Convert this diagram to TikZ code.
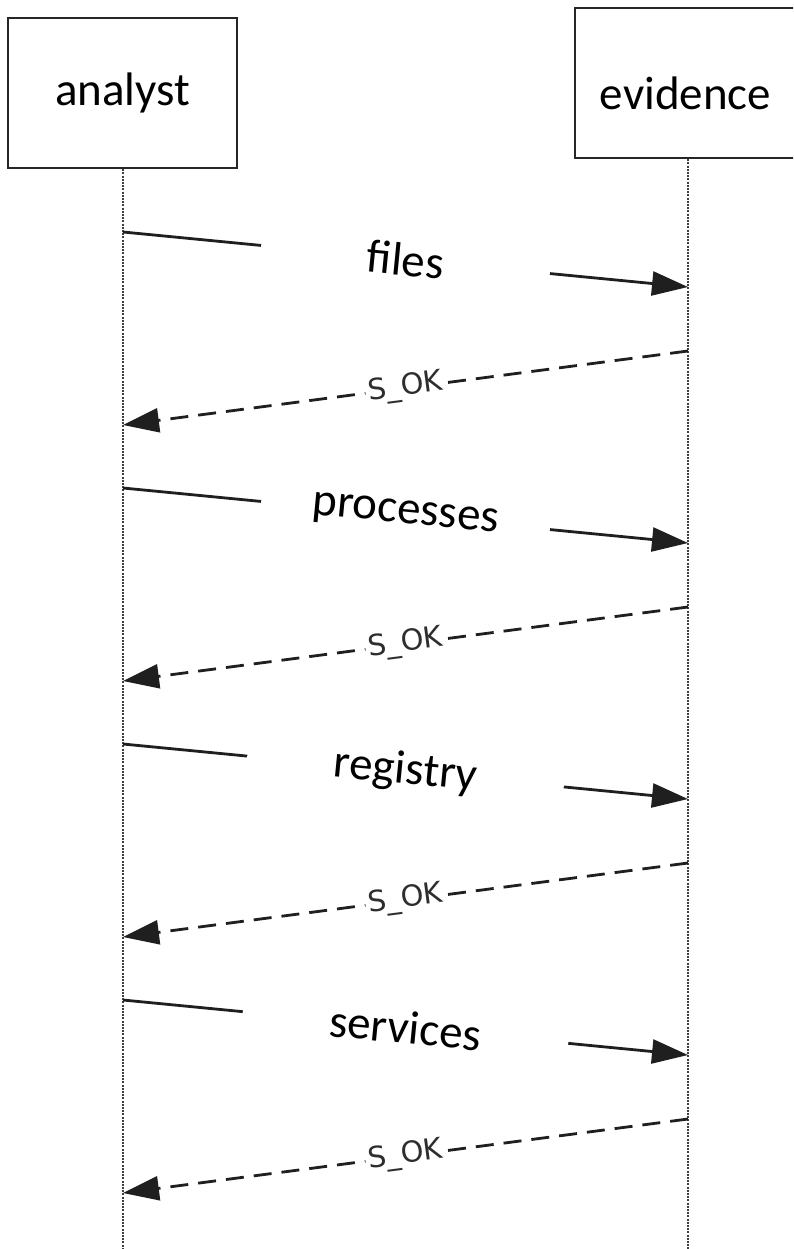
\documentclass[tikz,border=0pt]{standalone}
\usepackage{fontspec}
\setmainfont{Carlito}
\newfontfamily\retfont{DejaVu Sans}
\usetikzlibrary{arrows.meta}
\begin{document}
\begin{tikzpicture}[x=1pt,y=-1pt,
  actor/.style={draw=black!85, line width=2.6pt, minimum height=150pt,
    inner sep=0pt, font=\fontsize{47}{50}\selectfont},
  lifeline/.style={draw=black!75, line width=1.9pt, dash pattern=on 2pt off 1.2pt},
  tip/.style={-{Triangle[length=36pt,width=24pt]}},
  call/.style={tip, line width=2.8pt, draw=black!88},
  reply/.style={tip, line width=2.8pt, draw=black!88, dash pattern=on 18pt off 10pt},
  calllabel/.style={sloped, fill=white, inner sep=0pt, minimum height=40pt,
    font=\fontsize{47}{50}\selectfont},
  replylabel/.style={sloped, fill=white, inner sep=3pt, text=black!82,
    font=\retfont\fontsize{29}{31}\selectfont},
]
\useasboundingbox (0,0) rectangle (793,1249);
\clip (0,0) rectangle (793,1249);

% participants (the evidence box runs past the right edge; its text sits lower)
\node[actor, minimum width=229pt] (analyst) at (122.5,93) {analyst};
\node[actor, minimum width=221pt] (evidence) at (685.5,83)
  {\raisebox{0pt}[\dimexpr\height+20pt\relax]{evidence}};

% lifelines
\coordinate (aBot) at (123,1249);
\coordinate (eBot) at (688,1249);
\draw[lifeline] (analyst.south -| aBot) -- (aBot);
\draw[lifeline] (evidence.south -| eBot) -- (eBot);

% message end points on the lifelines
\foreach \i/\y in {1/232, 2/488, 3/744, 4/1000} {
  \coordinate (a\i) at (123,\y);
  \coordinate (e\i) at (688,\y+55);
  \coordinate (r\i) at (688,\y+119);
  \coordinate (b\i) at (123,\y+193);
}

% calls
\draw[call] (a1) -- node[calllabel, minimum width=290pt] (l1) {files} (e1);
\draw[call] (a2) -- node[calllabel, minimum width=290pt] (l2) {processes} (e2);
\draw[call] (a3) -- node[calllabel, minimum width=318pt] (l3) {registry} (e3);
\draw[call] (a4) -- node[calllabel, minimum width=327pt] (l4) {services} (e4);

% replies
\foreach \i in {1,...,4}
  \draw[reply] (r\i) -- node[replylabel] (k\i) {S\_OK} (b\i);
\end{tikzpicture}
\end{document}
